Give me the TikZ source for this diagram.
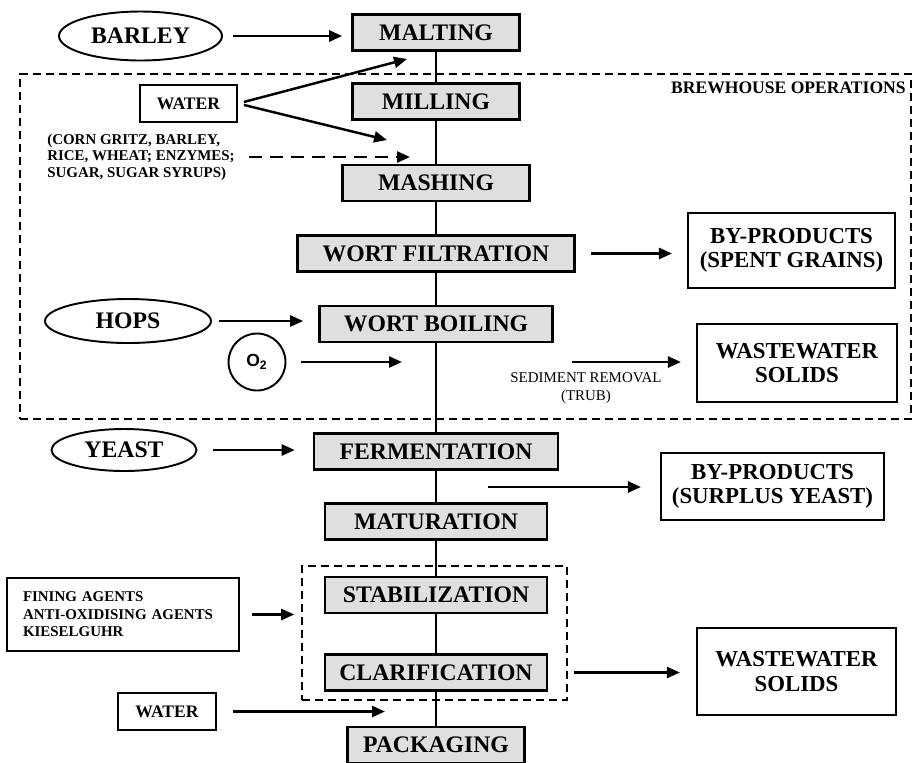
\documentclass[tikz,border=0pt]{standalone}
\usepackage{fontspec}
\setmainfont{Liberation Serif}
\setsansfont{Liberation Sans}
\usetikzlibrary{arrows.meta}
\usetikzlibrary{positioning}
\usetikzlibrary{shapes.geometric}
\tikzset{
  stage/.style={draw, fill=gray!25, line width=1.5pt, minimum height=0.72cm, inner sep=0pt,
    font=\fontsize{13.5}{15}\selectfont\bfseries},
  source/.style={draw, ellipse, line width=1.1pt, inner sep=0pt,
    font=\fontsize{13.5}{15}\selectfont\bfseries},
  smallbox/.style={draw, line width=1.2pt, inner sep=0pt, minimum height=0.74cm,
    font=\fontsize{10}{11}\selectfont\bfseries},
  outbox/.style={draw, line width=1.2pt, inner sep=0pt, align=center,
    font=\fontsize{13}{14}\selectfont\bfseries},
  zone/.style={draw, line width=0.9pt, dash pattern=on 0.16cm off 0.1cm, inner sep=0pt},
  feed/.style={line width=1.4pt, -{Triangle[length=0.26cm, width=0.22cm]}},
  flow/.style={line width=1.4pt}
}

\begin{document}
\begin{tikzpicture}[x=0.02cm, y=-0.02cm]
      \useasboundingbox (0,0) rectangle (913,762);

      \node[zone, minimum width=17.82cm, minimum height=6.9cm] (brewhouse) at (465.5,246.5) {};
      \node[zone, minimum width=5.3cm, minimum height=2.68cm] (finishing) at (434.5,633) {};
      \node[anchor=east, inner sep=0pt, font=\fontsize{10}{12}\selectfont\bfseries] (brewlabel)
        at (906,88) {BREWHOUSE OPERATIONS};

      \node[stage, minimum width=3.34cm] (malting) at (436,32.5) {MALTING};
      \node[stage, minimum width=3.34cm] (milling) at (436,101.5) {MILLING};
      \node[stage, minimum width=3.74cm] (mashing) at (436,183) {MASHING};
      \node[stage, minimum width=5.54cm] (filtration) at (436,253.5) {WORT FILTRATION};
      \node[stage, minimum width=4.66cm] (boiling) at (436,324) {WORT BOILING};
      \node[stage, minimum width=4.88cm] (fermentation) at (436,451.5) {FERMENTATION};
      \node[stage, minimum width=4.44cm] (maturation) at (436,521.5) {MATURATION};
      \node[stage, minimum width=4.44cm] (stabilization) at (436,595) {STABILIZATION};
      \node[stage, minimum width=4.44cm] (clarification) at (436,672.5) {CLARIFICATION};
      \node[stage, minimum width=3.54cm] (packaging) at (436,745) {PACKAGING};

      \draw[flow] (malting.south) -- (milling.north) (milling.south) -- (mashing.north)
        (mashing.south) -- (filtration.north) (filtration.south) -- (boiling.north)
        (boiling.south) -- (fermentation.north) (fermentation.south) -- (maturation.north)
        (maturation.south) -- (stabilization.north) (stabilization.south) -- (clarification.north)
        (clarification.south) -- (packaging.north);

      \node[source, minimum width=3.26cm, minimum height=0.98cm] (barley) at (140.5,36) {BARLEY};
      \node[source, minimum width=3.32cm, minimum height=0.88cm] (hops) at (128,321) {HOPS};
      \node[source, minimum width=2.9cm, minimum height=0.84cm] (yeast) at (124,450) {YEAST};
      \node[draw, circle, line width=1.1pt, minimum size=1.14cm, inner sep=0pt,
        font=\sffamily\bfseries\fontsize{10}{11}\selectfont] (oxygen) at (257,362) {O\textsubscript{2}};

      \node[smallbox, minimum width=1.94cm] (water) at (188.5,103.5) {WATER};
      \node[smallbox, minimum width=1.96cm] (rinse) at (167,711.5) {WATER};
      \node[align=left, anchor=west, inner sep=0pt, font=\fontsize{8.5}{9.4}\selectfont\bfseries]
        (adjuncts) at (47,157) {(CORN GRITZ, BARLEY,\\RICE, WHEAT; ENZYMES;\\SUGAR, SUGAR SYRUPS)};
      \node[draw, line width=1.2pt, align=left, text width=4cm, inner xsep=0.32cm, inner ysep=0pt,
        minimum height=1.46cm, font=\fontsize{8.5}{9.9}\selectfont\bfseries]
        (agents) at (123,614.5) {FINING AGENTS\\ANTI-OXIDISING AGENTS\\KIESELGUHR};

      \node[outbox, minimum width=4.14cm, minimum height=1.5cm] (spent) at (791.5,250.5)
        {BY-PRODUCTS\\(SPENT GRAINS)};
      \node[outbox, minimum width=4cm, minimum height=1.56cm] (solids) at (797,363)
        {WASTEWATER\\SOLIDS};
      \node[outbox, minimum width=4.46cm, minimum height=1.34cm] (surplus) at (772.5,486.5)
        {BY-PRODUCTS\\(SURPLUS YEAST)};
      \node[outbox, minimum width=3.98cm, minimum height=1.74cm] (sludge) at (796.5,671.5)
        {WASTEWATER\\SOLIDS};
      \node[align=center, inner sep=0pt, font=\fontsize{8.5}{10}\selectfont] (trub) at (586,388)
        {SEDIMENT REMOVAL\\(TRUB)};

      \coordinate (maltin) at (407,59);
      \coordinate (mashin) at (387,140);
      \coordinate (adjin) at (410,155);
      \coordinate (o2in) at (402,363);
      \coordinate (sediment) at (572,362);
      \coordinate (yeastout) at (488,487);
      \coordinate (waterin) at (385,714);

      \draw[feed, shorten <=0.2cm, shorten >=0.18cm] (barley.east) -- (barley.east -| malting.west);
      \draw[feed, shorten <=0.12cm] (water.east) -- (maltin);
      \draw[feed, shorten <=0.12cm] (water.east) -- (mashin);
      \draw[feed, dash pattern=on 0.26cm off 0.16cm, shorten <=0.28cm] (adjuncts.east) -- (adjuncts.east -| adjin);
      \draw[feed, shorten <=0.3cm, shorten >=0.3cm] (filtration.east) -- (filtration.east -| spent.west);
      \draw[feed, shorten <=0.14cm, shorten >=0.3cm] (hops.east) -- (hops.east -| boiling.west);
      \draw[feed, shorten <=0.3cm] (oxygen.east) -- (oxygen.east -| o2in);
      \draw[feed, shorten >=0.3cm] (sediment) -- (sediment -| solids.west);
      \draw[feed, shorten <=0.32cm, shorten >=0.36cm] (yeast.east) -- (yeast.east -| fermentation.west);
      \draw[feed, shorten >=0.38cm] (yeastout) -- (yeastout -| surplus.west);
      \draw[feed, shorten <=0.24cm, shorten >=0.14cm] (agents.east) -- (agents.east -| finishing.west);
      \draw[feed, shorten <=0.52cm, shorten >=0.32cm] (clarification.east) -- (clarification.east -| sludge.west);
      \draw[feed, shorten <=0.32cm] (rinse.east) -- (rinse.east -| waterin);
\end{tikzpicture}
\end{document}
